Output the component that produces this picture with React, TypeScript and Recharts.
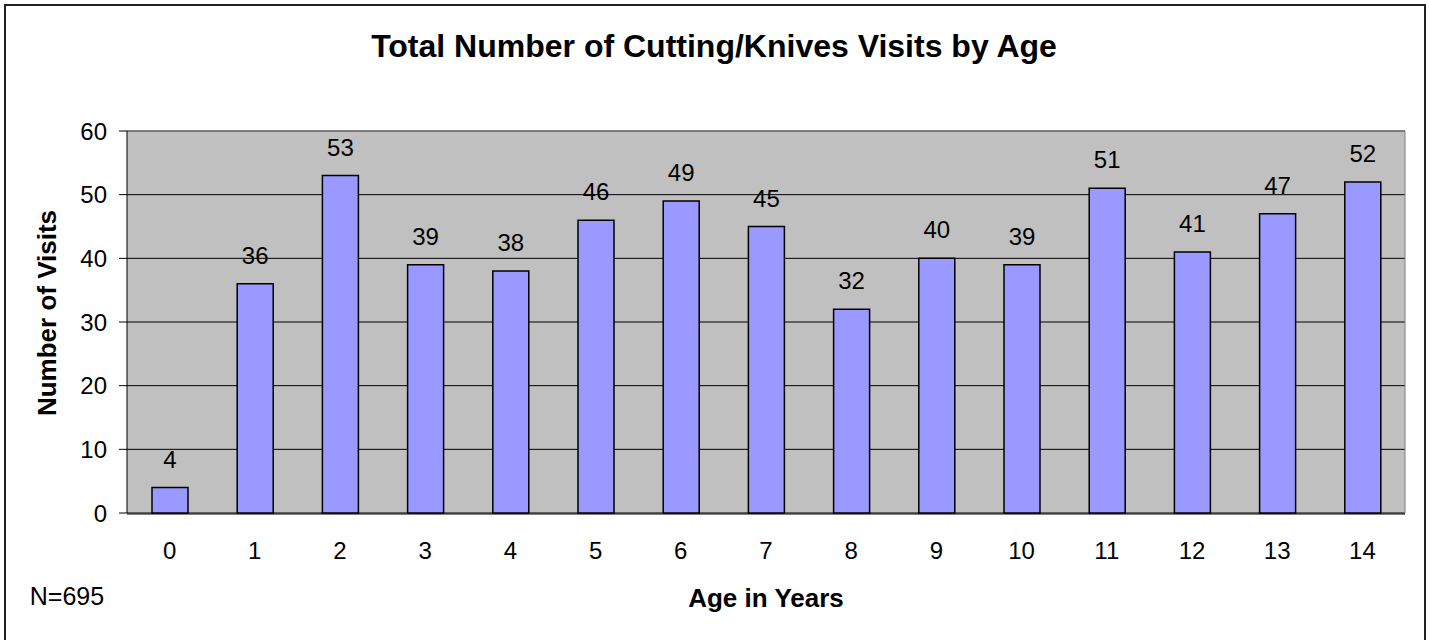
import React from 'react'
import { Bar, BarChart, CartesianGrid, LabelList, ReferenceLine, XAxis, YAxis } from 'recharts'

const AGES = ['0', '1', '2', '3', '4', '5', '6', '7', '8', '9', '10', '11', '12', '13', '14']
const VISITS = [4, 36, 53, 39, 38, 46, 49, 45, 32, 40, 39, 51, 41, 47, 52]
const Y_TICKS = [0, 10, 20, 30, 40, 50, 60]
// boundaries between categories, where the x tick marks sit
const X_BOUNDARIES = [0, 1, 2, 3, 4, 5, 6, 7, 8, 9, 10, 11, 12, 13, 14, 15]

const FONT = '"Liberation Sans", Arial, sans-serif'

const data = AGES.map((age, i) => ({ age, visits: VISITS[i] }))

const textStyle: React.CSSProperties = {
    position: 'absolute',
    fontFamily: FONT,
    color: '#000',
    lineHeight: 1,
    whiteSpace: 'nowrap',
    transform: 'translate(-50%, -50%)',
}

export default function App() {
    return (
        <div style={{ position: 'absolute', left: 0, top: 0, width: 1429, height: 640, background: '#fff', overflow: 'hidden' }}>
            <div
                style={{
                    position: 'absolute',
                    left: 4,
                    top: 4,
                    width: 1418,
                    height: 660,
                    border: '2px solid #222',
                }}
            />
            <BarChart
                width={1429}
                height={640}
                data={data}
                margin={{ top: 131, right: 23, bottom: 67, left: 67 }}
                style={{ position: 'absolute', left: 0, top: 0, fontFamily: FONT }}
            >
                <CartesianGrid
                    xAxisId="cat"
                    vertical={false}
                    fill="#c0c0c0"
                    fillOpacity={1}
                    stroke="#000"
                    strokeWidth={1}
                />
                {/* category labels only; sits right on the plot bottom */}
                <XAxis
                    xAxisId="cat"
                    dataKey="age"
                    height={1}
                    tickLine={false}
                    axisLine={false}
                    tickSize={7}
                    tickMargin={22}
                    interval={0}
                    tick={{ fill: '#000', fontSize: 24, fontFamily: FONT }}
                />
                {/* tick marks between categories, Excel style */}
                <XAxis
                    xAxisId="ticks"
                    type="number"
                    domain={[0, 15]}
                    ticks={X_BOUNDARIES}
                    allowDataOverflow
                    height={59}
                    tick={false}
                    tickSize={7}
                    stroke="#000"
                />
                <YAxis
                    domain={[0, 60]}
                    ticks={Y_TICKS}
                    width={60}
                    tickSize={8}
                    tickMargin={12}
                    stroke="#000"
                    tick={{ fill: '#000', fontSize: 24, fontFamily: FONT }}
                />
                <YAxis
                    yAxisId="right"
                    orientation="right"
                    domain={[0, 60]}
                    width={1}
                    tick={false}
                    tickLine={false}
                    stroke="#808080"
                />
                <ReferenceLine xAxisId="cat" y={60} stroke="#808080" strokeWidth={1.5} />
                <Bar
                    xAxisId="cat"
                    dataKey="visits"
                    fill="#9999ff"
                    stroke="#000"
                    strokeWidth={1.5}
                    barSize={36}
                    isAnimationActive={false}
                >
                    <LabelList
                        dataKey="visits"
                        position="top"
                        offset={20}
                        fill="#000"
                        fontSize={24}
                        fontFamily={FONT}
                    />
                </Bar>
            </BarChart>
            <div style={{ ...textStyle, left: 714, top: 46, fontSize: 32, fontWeight: 'bold' }}>
                Total Number of Cutting/Knives Visits by Age
            </div>
            <div style={{ ...textStyle, left: 47, top: 313, fontSize: 26, fontWeight: 'bold', transform: 'translate(-50%, -50%) rotate(-90deg)' }}>
                Number of Visits
            </div>
            <div style={{ ...textStyle, left: 766, top: 598, fontSize: 26, fontWeight: 'bold' }}>
                Age in Years
            </div>
            <div style={{ ...textStyle, left: 67, top: 596, fontSize: 25 }}>
                N=695
            </div>
        </div>
    )
}
